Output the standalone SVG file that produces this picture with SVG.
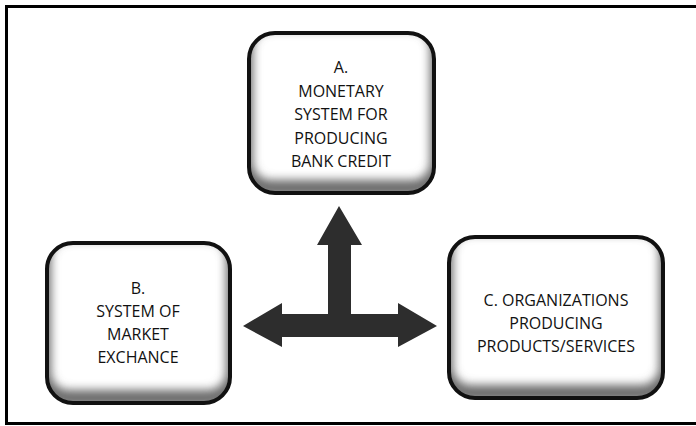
<svg xmlns="http://www.w3.org/2000/svg" width="696" height="426" viewBox="0 0 696 426">
<defs>
<style>
.box{fill:none;stroke:#111;stroke-width:4}
.shade{fill:none;stroke:#6a6a6a;stroke-width:16;filter:url(#blur)}
.t{font-family:"Open Sans","Liberation Sans",sans-serif;font-size:16px;fill:#111;text-anchor:middle}
</style>
<filter id="blur" x="-20%" y="-20%" width="140%" height="140%"><feGaussianBlur stdDeviation="5"/></filter>
<clipPath id="cA"><rect x="249" y="33" width="185" height="160" rx="26"/></clipPath>
<clipPath id="cB"><rect x="47" y="243" width="183" height="160" rx="26"/></clipPath>
<clipPath id="cC"><rect x="449" y="237" width="214" height="161" rx="26"/></clipPath>
</defs>
<rect x="6.5" y="6.5" width="700" height="417" fill="#fff" stroke="#000" stroke-width="3"/>
<g id="connectors">
<polygon fill="#2d2d2d" points="339,206 362,245 351,245 351,314 398,314 398,303 437,326 398,347 398,337 282,337 282,347 243,326 282,303 282,314 328,314 328,245 317,245"/>
</g>
<g id="nodeA">
<rect x="249" y="33" width="185" height="160" rx="26" fill="#fff"/>
<g clip-path="url(#cA)"><rect class="shade" x="245" y="22" width="193" height="166" rx="26"/></g>
<rect class="box" x="249" y="33" width="185" height="160" rx="26"/>
<text class="t" x="341" y="73">A.</text>
<text class="t" x="341" y="97">MONETARY</text>
<text class="t" x="341" y="120">SYSTEM FOR</text>
<text class="t" x="341" y="144">PRODUCING</text>
<text class="t" x="341" y="167">BANK CREDIT</text>
</g>
<g id="nodeB">
<rect x="47" y="243" width="183" height="160" rx="26" fill="#fff"/>
<g clip-path="url(#cB)"><rect class="shade" x="43" y="232" width="191" height="166" rx="26"/></g>
<rect class="box" x="47" y="243" width="183" height="160" rx="26"/>
<text class="t" x="138" y="294">B.</text>
<text class="t" x="138" y="317">SYSTEM OF</text>
<text class="t" x="138" y="340">MARKET</text>
<text class="t" x="138" y="363">EXCHANCE</text>
</g>
<g id="nodeC">
<rect x="449" y="237" width="214" height="161" rx="26" fill="#fff"/>
<g clip-path="url(#cC)"><rect class="shade" x="445" y="226" width="222" height="167" rx="26"/></g>
<rect class="box" x="449" y="237" width="214" height="161" rx="26"/>
<text class="t" x="556" y="306">C. ORGANIZATIONS</text>
<text class="t" x="556" y="329">PRODUCING</text>
<text class="t" x="556" y="352">PRODUCTS/SERVICES</text>
</g>
</svg>
